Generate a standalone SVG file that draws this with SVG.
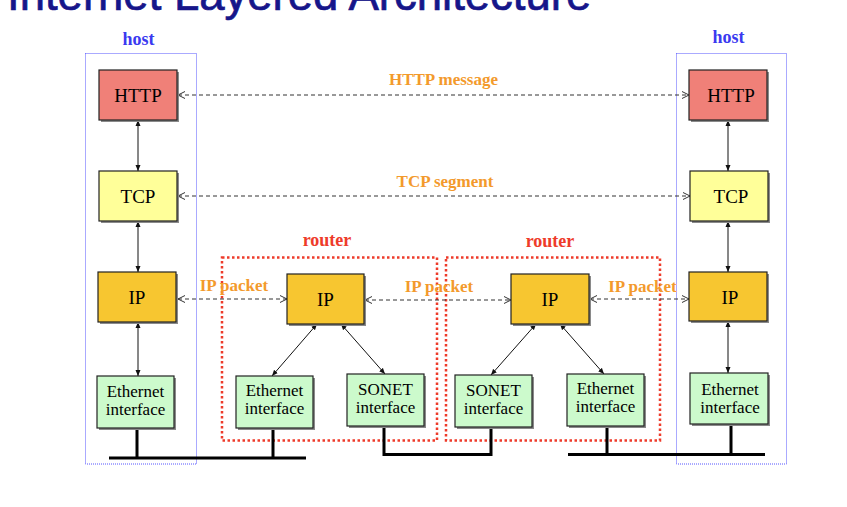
<svg xmlns="http://www.w3.org/2000/svg" width="847" height="507" viewBox="0 0 847 507">
<defs>
<style>
.box{stroke:#222;stroke-width:1.2}
.shadow{fill:#8a8a8a}
.http{fill:#F08078}
.tcp{fill:#FFFF99}
.ip{fill:#F7C630}
.iface{fill:#CCFACC}
.t{font-family:"Liberation Serif","Times New Roman",serif;fill:#000;text-anchor:middle}
.big{font-size:19px}
.sm{font-size:17px}
.lbl{font-family:"Liberation Serif","Times New Roman",serif;font-weight:bold;text-anchor:middle}
.orange{fill:#F39A2C;font-size:17px}
.red{fill:#EE3B2A;font-size:18px}
.blue{fill:#3A3AF0;font-size:18px}
.solid{stroke:#111;stroke-width:1;fill:none;marker-start:url(#ah);marker-end:url(#ah)}
.dash{stroke:#333;stroke-width:1;stroke-dasharray:4 3;fill:none;marker-start:url(#oh);marker-end:url(#oh)}
.bus{stroke:#000;stroke-width:3;fill:none}
.router{fill:none;stroke:#EE3B2A;stroke-width:2.5;stroke-dasharray:2.5 2.5}
.host{fill:none;stroke:#5555FF;stroke-width:1;stroke-dasharray:1 1}
</style>
<marker id="ah" viewBox="0 0 6 6" refX="6" refY="3" markerWidth="6" markerHeight="6" markerUnits="userSpaceOnUse" orient="auto-start-reverse">
<path d="M0,0.5 L6,3 L0,5.5 z" fill="#111"/>
</marker>
<marker id="oh" viewBox="0 0 8 8" refX="7.5" refY="4" markerWidth="8" markerHeight="8" markerUnits="userSpaceOnUse" orient="auto-start-reverse">
<path d="M0.5,0.5 L7.5,4 L0.5,7.5" fill="none" stroke="#333" stroke-width="1"/>
</marker>
</defs>
<rect width="847" height="507" fill="#fff"/>

<text x="7" y="10" font-family="'Liberation Sans',Arial,sans-serif" font-size="45.5" fill="#16168A" stroke="#16168A" stroke-width="0.7">Internet Layered Architecture</text>

<g id="host-left-frame">
<rect class="host" x="85.5" y="53.5" width="111" height="410.5"/>
<text class="lbl blue" x="138.5" y="45">host</text>
</g>
<g id="host-right-frame">
<rect class="host" x="676.5" y="53.5" width="110" height="410.5"/>
<text class="lbl blue" x="728.5" y="43">host</text>
</g>
<g id="router1-frame">
<rect class="router" x="222" y="257.5" width="215" height="183"/>
<text class="lbl red" x="327" y="246">router</text>
</g>
<g id="router2-frame">
<rect class="router" x="446" y="257.5" width="214" height="183"/>
<text class="lbl red" x="550" y="247">router</text>
</g>

<g id="connectors">
<line class="solid" x1="138" y1="120" x2="138" y2="171"/>
<line class="solid" x1="138" y1="221" x2="138" y2="272"/>
<line class="solid" x1="138" y1="322" x2="138" y2="376"/>
<line class="solid" x1="728" y1="120" x2="728" y2="171"/>
<line class="solid" x1="728" y1="221" x2="728" y2="272"/>
<line class="solid" x1="728" y1="321" x2="728" y2="373"/>
<line class="solid" x1="317" y1="324" x2="272" y2="376"/>
<line class="solid" x1="341" y1="324" x2="385" y2="374"/>
<line class="solid" x1="536" y1="324" x2="491" y2="375"/>
<line class="solid" x1="560" y1="324" x2="604" y2="374"/>
<line class="dash" x1="178" y1="95" x2="689" y2="95"/>
<line class="dash" x1="178" y1="196" x2="690" y2="196"/>
<line class="dash" x1="178" y1="299" x2="287" y2="299"/>
<line class="dash" x1="365" y1="300" x2="511" y2="300"/>
<line class="dash" x1="590" y1="299" x2="689" y2="299"/>
<text class="lbl orange" x="443.5" y="85">HTTP message</text>
<text class="lbl orange" x="445" y="187">TCP segment</text>
<text class="lbl orange" x="234" y="291">IP packet</text>
<text class="lbl orange" x="439" y="292">IP packet</text>
<text class="lbl orange" x="642.5" y="292">IP packet</text>
<path class="bus" d="M109,458 H306 M137,428 V458 M273,428 V458"/>
<path class="bus" d="M384,426 V454.5 H491 V427"/>
<path class="bus" d="M568,454.5 H765 M607,426 V454.5 M731,424 V454.5"/>
</g>

<g id="hostL-http"><rect class="shadow" x="101" y="72" width="78" height="50"/><rect class="box http" x="99" y="70" width="78" height="50"/><text class="t big" x="138" y="102">HTTP</text></g>
<g id="hostL-tcp"><rect class="shadow" x="101" y="173" width="78" height="50"/><rect class="box tcp" x="99" y="171" width="78" height="50"/><text class="t big" x="138" y="203">TCP</text></g>
<g id="hostL-ip"><rect class="shadow" x="100" y="274" width="78" height="50"/><rect class="box ip" x="98" y="272" width="78" height="50"/><text class="t big" x="137" y="304">IP</text></g>
<g id="hostL-eth"><rect class="shadow" x="99" y="378" width="77" height="52"/><rect class="box iface" x="97" y="376" width="77" height="52"/><text class="t sm" x="135.5" y="397">Ethernet</text><text class="t sm" x="135.5" y="415">interface</text></g>

<g id="r1-ip"><rect class="shadow" x="289" y="276" width="77" height="50"/><rect class="box ip" x="287" y="274" width="77" height="50"/><text class="t big" x="325.5" y="306">IP</text></g>
<g id="r1-eth"><rect class="shadow" x="238" y="378" width="77" height="52"/><rect class="box iface" x="236" y="376" width="77" height="52"/><text class="t sm" x="274.5" y="396">Ethernet</text><text class="t sm" x="274.5" y="414">interface</text></g>
<g id="r1-sonet"><rect class="shadow" x="349" y="376" width="77" height="52"/><rect class="box iface" x="347" y="374" width="77" height="52"/><text class="t sm" x="385.5" y="395">SONET</text><text class="t sm" x="385.5" y="413">interface</text></g>

<g id="r2-ip"><rect class="shadow" x="513" y="276" width="78" height="50"/><rect class="box ip" x="511" y="274" width="78" height="50"/><text class="t big" x="550" y="306">IP</text></g>
<g id="r2-sonet"><rect class="shadow" x="457" y="377" width="77" height="52"/><rect class="box iface" x="455" y="375" width="77" height="52"/><text class="t sm" x="493.5" y="396">SONET</text><text class="t sm" x="493.5" y="414">interface</text></g>
<g id="r2-eth"><rect class="shadow" x="569" y="376" width="77" height="52"/><rect class="box iface" x="567" y="374" width="77" height="52"/><text class="t sm" x="605.5" y="394">Ethernet</text><text class="t sm" x="605.5" y="412">interface</text></g>

<g id="hostR-http"><rect class="shadow" x="691" y="72" width="78" height="50"/><rect class="box http" x="689" y="70" width="78" height="50"/><text class="t big" x="731" y="102">HTTP</text></g>
<g id="hostR-tcp"><rect class="shadow" x="692" y="173" width="78" height="50"/><rect class="box tcp" x="690" y="171" width="78" height="50"/><text class="t big" x="731" y="203">TCP</text></g>
<g id="hostR-ip"><rect class="shadow" x="691" y="274" width="78" height="49"/><rect class="box ip" x="689" y="272" width="78" height="49"/><text class="t big" x="730" y="304">IP</text></g>
<g id="hostR-eth"><rect class="shadow" x="692" y="375" width="78" height="51"/><rect class="box iface" x="690" y="373" width="78" height="51"/><text class="t sm" x="730" y="395">Ethernet</text><text class="t sm" x="730" y="413">interface</text></g>
</svg>
